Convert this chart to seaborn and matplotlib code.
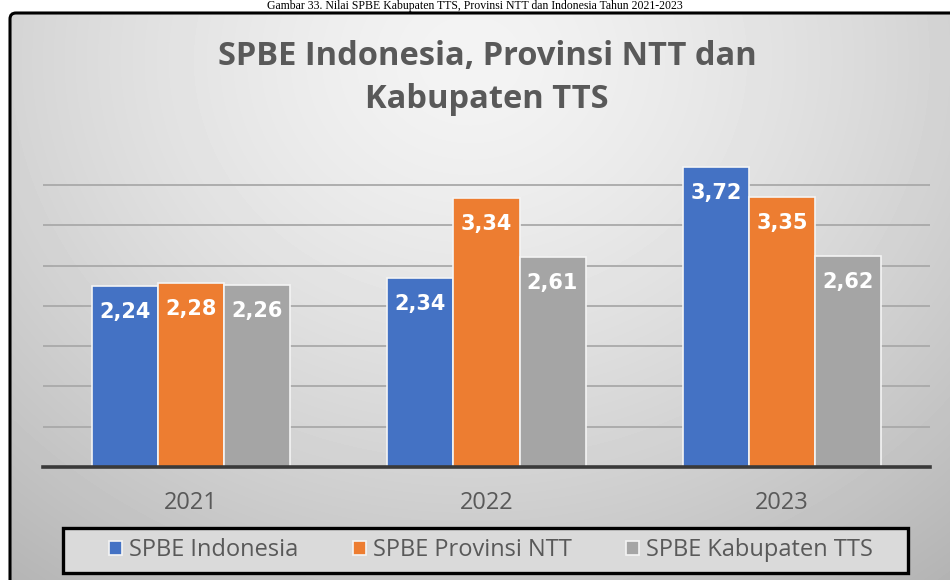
import numpy as np
import pandas as pd
import matplotlib
matplotlib.use("Agg")
import matplotlib.pyplot as plt
import seaborn as sns
from matplotlib.patches import FancyBboxPatch, Rectangle
from matplotlib.transforms import IdentityTransform

# ---- data -------------------------------------------------------------
years = ["2021", "2022", "2023"]
series = ["SPBE Indonesia", "SPBE Provinsi NTT", "SPBE Kabupaten TTS"]
spbe_indonesia = [2.24, 2.34, 3.72]
spbe_ntt = [2.28, 3.34, 3.35]
spbe_tts = [2.26, 2.61, 2.62]
colors = ["#4472C4", "#ED7D31", "#A5A5A5"]

caption = "Gambar 33. Nilai SPBE Kabupaten TTS, Provinsi NTT dan Indonesia Tahun 2021-2023"
title = "SPBE Indonesia, Provinsi NTT dan\nKabupaten TTS"

df = pd.DataFrame({
    "Tahun": np.repeat(years, len(series)),
    "Seri": series * len(years),
    "Nilai": [v for trio in zip(spbe_indonesia, spbe_ntt, spbe_tts) for v in trio],
})

sns.set_theme(style="white")
plt.rcParams["font.family"] = ["Open Sans", "DejaVu Sans"]

W, H = 950, 580
fig = plt.figure(figsize=(W / 100, H / 100), dpi=100, facecolor="white")

# ---- chart frame with soft radial grey fill ------------------------------
frame = FancyBboxPatch((10, -30), 960, H - 13 + 30,
                       boxstyle="round,pad=0,rounding_size=6",
                       transform=IdentityTransform(), facecolor="none",
                       edgecolor="black", linewidth=2.2, zorder=5)
bg = fig.add_axes([0, 0, 1, 1], zorder=-5)
bg.set_axis_off()
yy, xx = np.mgrid[0:H, 0:W]
d = np.hypot((xx - 470) * 1.0, (yy - 60) * 1.15)
shade = 0.955 - 0.2 * np.clip(d / 650, 0, 1.2) ** 1.4
img = bg.imshow(shade, cmap="gray", vmin=0, vmax=1, extent=(0, W, H, 0),
                aspect="auto", interpolation="bilinear")
bg.set_xlim(0, W)
bg.set_ylim(H, 0)
img.set_clip_path(frame)
fig.patches.append(frame)

# ---- bars -----------------------------------------------------------------
ax = fig.add_axes([43 / W, 1 - 467 / H, (930 - 43) / W, (467 - 144.6) / H])
ax.patch.set_alpha(0)
sns.barplot(data=df, x="Tahun", y="Nilai", hue="Seri", order=years,
            hue_order=series, palette=colors, width=0.67, errorbar=None,
            edgecolor="#f4f4f4", linewidth=1.2, saturation=1, ax=ax)

ax.set_xlim(-0.5, 2.5)
ax.set_ylim(0, 4.0)
ax.set_yticks(np.arange(0.5, 3.51, 0.5))
ax.set_yticklabels([])
ax.yaxis.grid(True, color="#a9a9a9", linewidth=1.3)
ax.set_axisbelow(True)
for s in ["top", "right", "left"]:
    ax.spines[s].set_visible(False)
ax.spines["bottom"].set_color("#3a3a3a")
ax.spines["bottom"].set_linewidth(2.6)
ax.tick_params(axis="both", length=0)
ax.tick_params(axis="x", pad=17, labelsize=17, labelcolor="#595959")
ax.set_xlabel("")
ax.set_ylabel("")

# value labels inside the top of every bar
for cont in ax.containers:
    for bar in cont:
        h = bar.get_height()
        ax.annotate(f"{h:.2f}".replace(".", ","),
                    xy=(bar.get_x() + bar.get_width() / 2, h),
                    xytext=(0, -26), textcoords="offset pixels",
                    ha="center", va="center", color="white",
                    fontsize=15, fontweight="bold", family="DejaVu Sans")

# ---- legend ---------------------------------------------------------------
handles, labels = ax.get_legend_handles_labels()
if ax.legend_ is not None:
    ax.legend_.remove()
fig.patches.append(Rectangle((63, H - 573), 908 - 63, 573 - 528,
                             transform=IdentityTransform(),
                             facecolor="#dadada", edgecolor="black",
                             linewidth=2.4, zorder=4))
leg = fig.legend(handles, labels, loc="center", ncol=3,
                 bbox_to_anchor=(491 / W, 1 - 550 / H), frameon=False,
                 fontsize=17, handlelength=0.55, handleheight=0.55,
                 handletextpad=0.3, columnspacing=2.3, labelcolor="#595959")
leg.set_zorder(6)

# ---- title ----------------------------------------------------------------
fig.text(487 / W, 1 - 78 / H, title, ha="center", va="center",
         fontsize=23.5, fontweight="bold", color="#595959", linespacing=1.38)

# ---- figure caption above the chart frame ---------------------------------
fig.text(0.5, 1 - 9.5 / H, caption, ha="center", va="baseline",
         fontsize=8.5, family="Liberation Serif", color="black")

fig.savefig("out.png", dpi=100, facecolor="white")
